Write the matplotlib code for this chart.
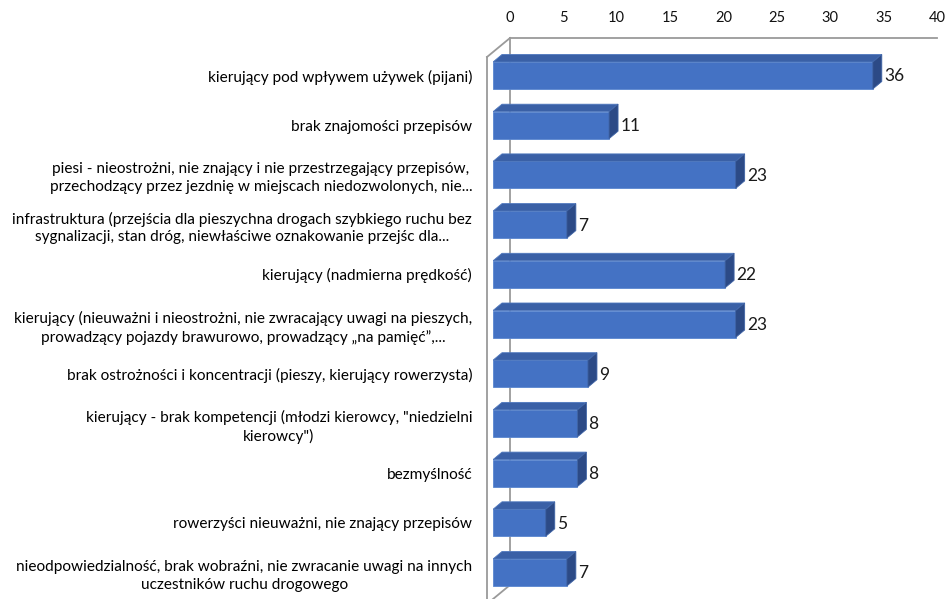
import matplotlib
matplotlib.use('Agg')
import matplotlib.pyplot as plt
from matplotlib.patches import Polygon

plt.rcParams['font.family'] = ['Lato', 'DejaVu Sans']

categories = [
    'kierujący pod wpływem używek (pijani)',
    'brak znajomości przepisów',
    'piesi - nieostrożni, nie znający i nie przestrzegający przepisów,\n'
    'przechodzący przez jezdnię w miejscach niedozwolonych, nie...',
    'infrastruktura (przejścia dla pieszychna drogach szybkiego ruchu bez\n'
    'sygnalizacji, stan dróg, niewłaściwe oznakowanie przejśc dla...',
    'kierujący (nadmierna prędkość)',
    'kierujący (nieuważni i nieostrożni, nie zwracający uwagi na pieszych,\n'
    'prowadzący pojazdy brawurowo, prowadzący „na pamięć”,...',
    'brak ostrożności i koncentracji (pieszy, kierujący rowerzysta)',
    'kierujący - brak kompetencji (młodzi kierowcy, "niedzielni\nkierowcy")',
    'bezmyślność',
    'rowerzyści nieuważni, nie znający przepisów',
    'nieodpowiedzialność, brak wobraźni, nie zwracanie uwagi na innych\n'
    'uczestników ruchu drogowego',
]
values = [36, 11, 23, 7, 22, 23, 9, 8, 8, 5, 7]
ticks = [0, 5, 10, 15, 20, 25, 30, 35, 40]

W, H = 953, 599
front_col = '#4472C4'
top_col = '#3A60A6'
side_col = '#2C4A86'
wall_col = '#9A9A9A'


def fx(px):
    return px / W


def fy(py):
    return 1 - py / H


def main():
    fig = plt.figure(figsize=(W / 100, H / 100), dpi=100)

    # back plane: top axis with tick labels and the back wall line
    back_l, back_r, back_t, back_b = 510, 937, 38, 585
    ax_top = fig.add_axes([fx(back_l), fy(back_b), fx(back_r - back_l),
                           (back_b - back_t) / H])
    ax_top.set_xlim(0, 40)
    ax_top.set_ylim(0, 1)
    ax_top.set_xticks(ticks)
    ax_top.xaxis.tick_top()
    ax_top.tick_params(axis='x', length=0, pad=9, labelsize=10.5,
                       labelcolor='#111111')
    ax_top.set_yticks([])
    for side in ['right', 'bottom']:
        ax_top.spines[side].set_visible(False)
    for side in ['top', 'left']:
        ax_top.spines[side].set_color(wall_col)
        ax_top.spines[side].set_linewidth(1.3)
    ax_top.patch.set_visible(False)

    # side wall (depth offset of the floor)
    ddx = -23 / ((back_r - back_l) / 40)
    ddy = -19 / (back_b - back_t)
    wall_kw = dict(color=wall_col, lw=1.3, clip_on=False)
    ax_top.plot([0, ddx], [1, 1 + ddy], **wall_kw)
    ax_top.plot([ddx, ddx], [1 + ddy, ddy - 0.03], **wall_kw)
    ax_top.plot([0, ddx], [0, ddy], **wall_kw)

    # front plane: the bars
    scale = 10.55
    x0 = 493
    row = 49.7
    first = 75.5
    top_px = first - row / 2
    bot_px = first + row * (len(values) - 0.5)
    ax = fig.add_axes([fx(x0), fy(bot_px), fx(40 * scale),
                       (bot_px - top_px) / H])
    ax.set_xlim(0, 40)
    ax.set_ylim(len(values) - 0.5, -0.5)
    ax.patch.set_visible(False)
    for s in ax.spines.values():
        s.set_visible(False)
    ax.set_xticks([])
    ypos = list(range(len(values)))
    ax.set_yticks(ypos)
    ax.set_yticklabels(categories)
    ax.tick_params(axis='y', length=0, pad=15, labelsize=11.1,
                   labelcolor='#000000')
    for t in ax.get_yticklabels():
        t.set_multialignment('center')
        t.set_linespacing(1.35)

    bh = 27 / row
    dx = 9 / scale
    dy = 7.5 / row
    ax.barh(ypos, values, height=bh, color=front_col, edgecolor='#5A86D0',
            linewidth=0.6, zorder=3)
    for y, v in zip(ypos, values):
        yt = y - bh / 2
        yb = y + bh / 2
        top = Polygon([(0, yt), (v, yt), (v + dx, yt - dy), (dx, yt - dy)],
                      closed=True, facecolor=top_col, edgecolor='#4F78BE',
                      linewidth=0.6, zorder=3)
        side = Polygon([(v, yt), (v, yb), (v + dx, yb - dy), (v + dx, yt - dy)],
                       closed=True, facecolor=side_col, edgecolor='#3F64A6',
                       linewidth=0.6, zorder=3)
        ax.add_patch(top)
        ax.add_patch(side)
        ax.text(v + dx + 0.2, y + 0.02, str(v), va='center', ha='left',
                fontsize=12.5, color='#1a1a1a')

    fig.savefig('out.png', dpi=100)


if __name__ == '__main__':
    main()
